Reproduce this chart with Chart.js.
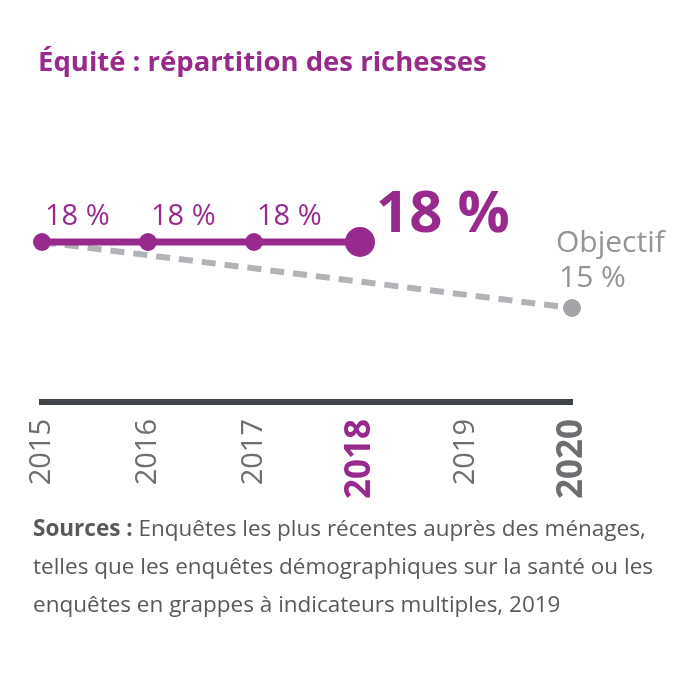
<!DOCTYPE html>
<html>
<head>
<meta charset="utf-8">
<script src="https://cdn.jsdelivr.net/npm/chart.js@4.4.1/dist/chart.umd.min.js"></script>
<style>
  body { margin: 0; background: #fff; }
  #wrap { position: relative; width: 700px; height: 700px; }
  #title { position: absolute; left: 38px; top: 42px; font: bold 27.5px "Open Sans", sans-serif; color: #982a8e; white-space: nowrap; }
  #src { position: absolute; left: 33px; top: 509px; font: 22.5px "Open Sans", sans-serif; line-height: 38px; color: #58595b; white-space: nowrap; }
  #src b { font-weight: bold; }
  canvas { position: absolute; left: 0; top: 0; }
</style>
</head>
<body>
<div id="wrap">
  <canvas id="equite" width="700" height="700"></canvas>
  <div id="title">Équité : répartition des richesses</div>
  <div id="src"><b>Sources :</b> Enquêtes les plus récentes auprès des ménages,<br>telles que les enquêtes démographiques sur la santé ou les<br>enquêtes en grappes à indicateurs multiples, 2019</div>
</div>
<script>
const years = ['2015', '2016', '2017', '2018', '2019', '2020'];
const actual = [18, 18, 18, 18, null, null];
const target = [18, null, null, null, null, 15];
const actualLabels = ['18 %', '18 %', '18 %', '18 %', null, null];
const targetLabel = ['Objectif', '15 %'];

const PURPLE = '#982a8e';
const GREY_LINE = '#b1b3b6';
const GREY_DOT = '#a2a4a7';
const GREY_TXT = '#939598';
const AXIS = '#404347';

// 1. labels next to the points
const pointLabels = {
    id: 'pointLabels',
    afterDatasetsDraw(chart) {
        const ctx = chart.ctx;
        const x = chart.scales.x, y = chart.scales.y;
        ctx.save();
        ctx.textBaseline = 'alphabetic';
        ctx.textAlign = 'left';
        actual.forEach((v, i) => {
            if (v === null) return;
            const px = x.getPixelForValue(i), py = y.getPixelForValue(v);
            ctx.fillStyle = PURPLE;
            if (i === 3) {
                ctx.font = 'bold 58px "Open Sans", sans-serif';
                ctx.fillText(actualLabels[i], px + 16, py - 10);
            } else {
                ctx.font = '29px "Open Sans", sans-serif';
                ctx.fillText(actualLabels[i], px + 3, py - 17);
            }
        });
        const last = target.length - 1;
        const tx = x.getPixelForValue(last), ty = y.getPixelForValue(target[last]);
        ctx.fillStyle = GREY_TXT;
        ctx.font = '30px "Open Sans", sans-serif';
        ctx.fillText(targetLabel[0], tx - 16, ty - 56);
        ctx.fillText(targetLabel[1], tx - 13, ty - 21);
        ctx.restore();
    }
};

function tickFont(c) {
    if (c.index === 3 || c.index === 5) return { family: '"Open Sans", sans-serif', size: 35, weight: 'bold' };
    return { family: '"Open Sans", sans-serif', size: 29 };
}

new Chart(document.getElementById('equite'), {
    type: 'line',
    data: {
        labels: years,
        datasets: [
            {
                data: actual,
                borderColor: PURPLE,
                backgroundColor: PURPLE,
                borderWidth: 7,
                pointRadius: [9, 9, 9, 15, 0, 0],
                pointBorderWidth: 0,
                pointBackgroundColor: PURPLE
            },
            {
                data: target,
                spanGaps: true,
                borderColor: GREY_LINE,
                borderWidth: 6,
                borderDash: [14, 9],
                pointRadius: [0, 0, 0, 0, 0, 9],
                pointBorderWidth: 0,
                pointBackgroundColor: GREY_DOT
            }
        ]
    },
    options: {
        responsive: false,
        animation: false,
        layout: { padding: { left: 42, right: 128, top: 110, bottom: 198 } },
        plugins: { legend: { display: false }, tooltip: { enabled: false } },
        scales: {
            x: {
                offset: false,
                grid: { display: false, drawTicks: false },
                border: { display: true, color: AXIS, width: 6 },
                afterFit(s) { s.height = 100; },
                ticks: {
                    minRotation: 90, maxRotation: 90, padding: 17, autoSkip: false,
                    font: tickFont,
                    color: c => c.index === 3 ? PURPLE : '#6d6e71'
                }
            },
            y: { display: false, min: 10.727, max: 24 }
        }
    },
    plugins: [pointLabels]
});
</script>
</body>
</html>
